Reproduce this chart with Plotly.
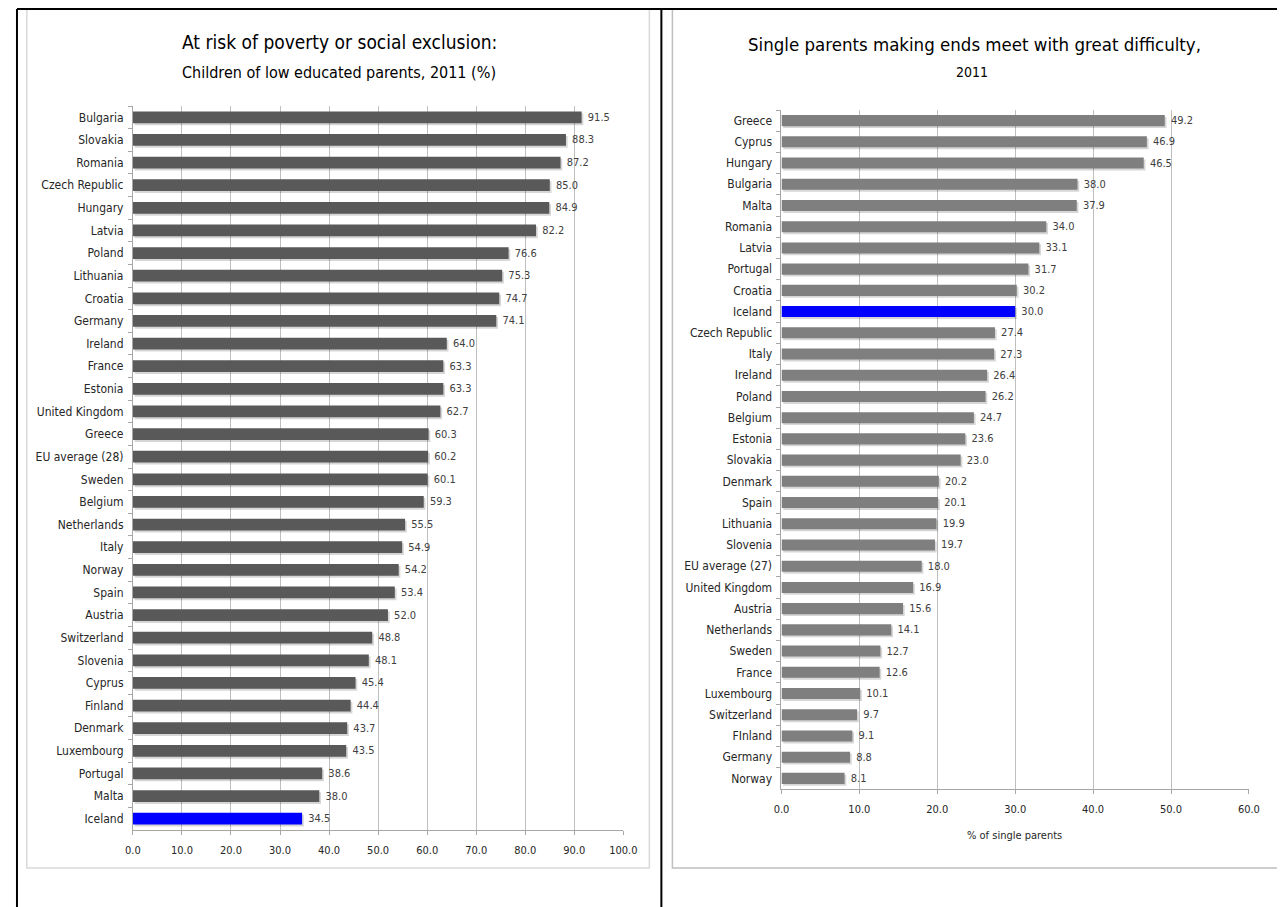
import plotly.graph_objects as go

W, H = 1285, 907

# Left chart data
left_countries = ["Bulgaria", "Slovakia", "Romania", "Czech Republic", "Hungary", "Latvia", "Poland",
                  "Lithuania", "Croatia", "Germany", "Ireland", "France", "Estonia", "United Kingdom",
                  "Greece", "EU average (28)", "Sweden", "Belgium", "Netherlands", "Italy", "Norway",
                  "Spain", "Austria", "Switzerland", "Slovenia", "Cyprus", "Finland", "Denmark",
                  "Luxembourg", "Portugal", "Malta", "Iceland"]
left_values = [91.5, 88.3, 87.2, 85.0, 84.9, 82.2, 76.6, 75.3, 74.7, 74.1, 64.0, 63.3, 63.3, 62.7,
               60.3, 60.2, 60.1, 59.3, 55.5, 54.9, 54.2, 53.4, 52.0, 48.8, 48.1, 45.4, 44.4, 43.7,
               43.5, 38.6, 38.0, 34.5]
left_ticks = [0, 10, 20, 30, 40, 50, 60, 70, 80, 90, 100]

# Right chart data
right_countries = ["Greece", "Cyprus", "Hungary", "Bulgaria", "Malta", "Romania", "Latvia", "Portugal",
                   "Croatia", "Iceland", "Czech Republic", "Italy", "Ireland", "Poland", "Belgium",
                   "Estonia", "Slovakia", "Denmark", "Spain", "Lithuania", "Slovenia", "EU average (27)",
                   "United Kingdom", "Austria", "Netherlands", "Sweden", "France", "Luxembourg",
                   "Switzerland", "FInland", "Germany", "Norway"]
right_values = [49.2, 46.9, 46.5, 38.0, 37.9, 34.0, 33.1, 31.7, 30.2, 30.0, 27.4, 27.3, 26.4, 26.2,
                24.7, 23.6, 23.0, 20.2, 20.1, 19.9, 19.7, 18.0, 16.9, 15.6, 14.1, 12.7, 12.6, 10.1,
                9.7, 9.1, 8.8, 8.1]
right_ticks = [0, 10, 20, 30, 40, 50, 60]

HIGHLIGHT = "Iceland"
FONT = "DejaVu Sans Condensed, Liberation Sans Narrow, Roboto, sans-serif"

left_colors = ["#0000FF" if c == HIGHLIGHT else "#595959" for c in left_countries]
right_colors = ["#0000FF" if c == HIGHLIGHT else "#7F7F7F" for c in right_countries]

# map target screen pixels to paper coordinates (page offset compensation)
SX, OX, OY = 0.982, 15.2, 8.0

def px_x(p):
    v = (p - OX) / SX / W
    return min(max(v, 0.0), 1.0)

def px_y(p):
    v = 1 - (p - OY) / H
    return min(max(v, 0.0), 1.0)

fig = go.Figure()

BAR_W = 0.52
for vals, cats, cols, xa, ya, sh_base in [
        (left_values, left_countries, left_colors, "x", "y", 0.35),
        (right_values, right_countries, right_colors, "x2", "y2", 0.22)]:
    # soft drop shadow (Excel style)
    fig.add_trace(go.Bar(
        x=vals, y=cats, orientation="h", base=sh_base,
        marker=dict(color="rgba(0,0,0,0.16)", line=dict(width=0)),
        width=BAR_W, offset=-BAR_W / 2 + 0.09,
        hoverinfo="skip", xaxis=xa, yaxis=ya, showlegend=False,
    ))
    fig.add_trace(go.Bar(
        x=vals, y=cats, orientation="h",
        marker=dict(color=cols, line=dict(width=0)),
        width=BAR_W,
        texttemplate="\u00a0%{x:.1f}", textposition="outside", constraintext="none",
        textfont=dict(family=FONT, size=11, color="#404040"),
        cliponaxis=False, xaxis=xa, yaxis=ya, showlegend=False,
    ))

axis_common = dict(
    showgrid=True, gridcolor="#BFBFBF", gridwidth=1,
    showline=True, linecolor="#A6A6A6", linewidth=1,
    ticks="outside", ticklen=4, tickcolor="#A6A6A6",
    tickfont=dict(family=FONT, size=11, color="#262626"),
    tickformat=".1f", zeroline=False, fixedrange=True, ticklabelstandoff=6,
)
yaxis_common = dict(
    autorange="reversed", type="category",
    showline=True, linecolor="#A6A6A6", ticks="outside", ticklen=4,
    tickcolor="#A6A6A6", tickson="boundaries", showgrid=False,
    tickfont=dict(family=FONT, size=12, color="#262626"), ticklabelstandoff=6,
    fixedrange=True,
)

fig.update_layout(
    width=W, height=H,
    margin=dict(l=0, r=0, t=0, b=0),
    paper_bgcolor="white", plot_bgcolor="white",
    font=dict(family=FONT, color="#262626"),
    barmode="overlay",
    xaxis=dict(domain=[px_x(132), px_x(622)], range=[0, 100], tickvals=left_ticks,
               anchor="y", **axis_common),
    yaxis=dict(domain=[px_y(830), px_y(106)], anchor="x", **yaxis_common),
    xaxis2=dict(domain=[px_x(780), px_x(1247)], range=[0, 60], tickvals=right_ticks,
                anchor="y2", **axis_common),
    yaxis2=dict(domain=[px_y(789), px_y(110)], anchor="x2", **yaxis_common),
)

shapes = []
# chart frames (light gray)
shapes.append(dict(type="rect", xref="paper", yref="paper",
                   x0=px_x(26), x1=px_x(648), y0=px_y(868), y1=px_y(9),
                   line=dict(color="#D9D9D9", width=1.5), layer="below"))
shapes.append(dict(type="rect", xref="paper", yref="paper",
                   x0=px_x(671), x1=1.01, y0=px_y(868), y1=px_y(8),
                   line=dict(color="#BFBFBF", width=1.5), layer="below"))
# outer black table lines
e = 1.0 / W
ey = 1.0 / H
lines = [
    (e, 1 - ey, 1.0, 1 - ey),
    (e, 1 - ey, e, 0.0),
    (px_x(660), 1 - ey, px_x(660), 0.0),
]
for (x0, y0, x1, y1) in lines:
    shapes.append(dict(type="line", xref="paper", yref="paper",
                       x0=x0, x1=x1, y0=y0, y1=y1,
                       line=dict(color="black", width=2)))
fig.update_layout(shapes=shapes)

annotations = [
    dict(text="At risk of poverty or social exclusion:", x=px_x(338), y=px_y(42),
         font=dict(family=FONT, size=19, color="#000000")),
    dict(text="Children of low educated parents, 2011 (%)", x=px_x(338), y=px_y(72),
         font=dict(family=FONT, size=16, color="#000000")),
    dict(text="Single parents making ends meet with great difficulty,", x=px_x(973), y=px_y(45),
         font=dict(family=FONT, size=18.5, color="#000000")),
    dict(text="2011", x=px_x(970), y=px_y(72),
         font=dict(family=FONT, size=14, color="#000000")),
    dict(text="% of single parents", x=px_x(1013), y=px_y(835),
         font=dict(family=FONT, size=11, color="#262626")),
]
for a in annotations:
    a.update(xref="paper", yref="paper", showarrow=False, xanchor="center", yanchor="middle")
fig.update_layout(annotations=annotations)

fig.write_html("out.html")
